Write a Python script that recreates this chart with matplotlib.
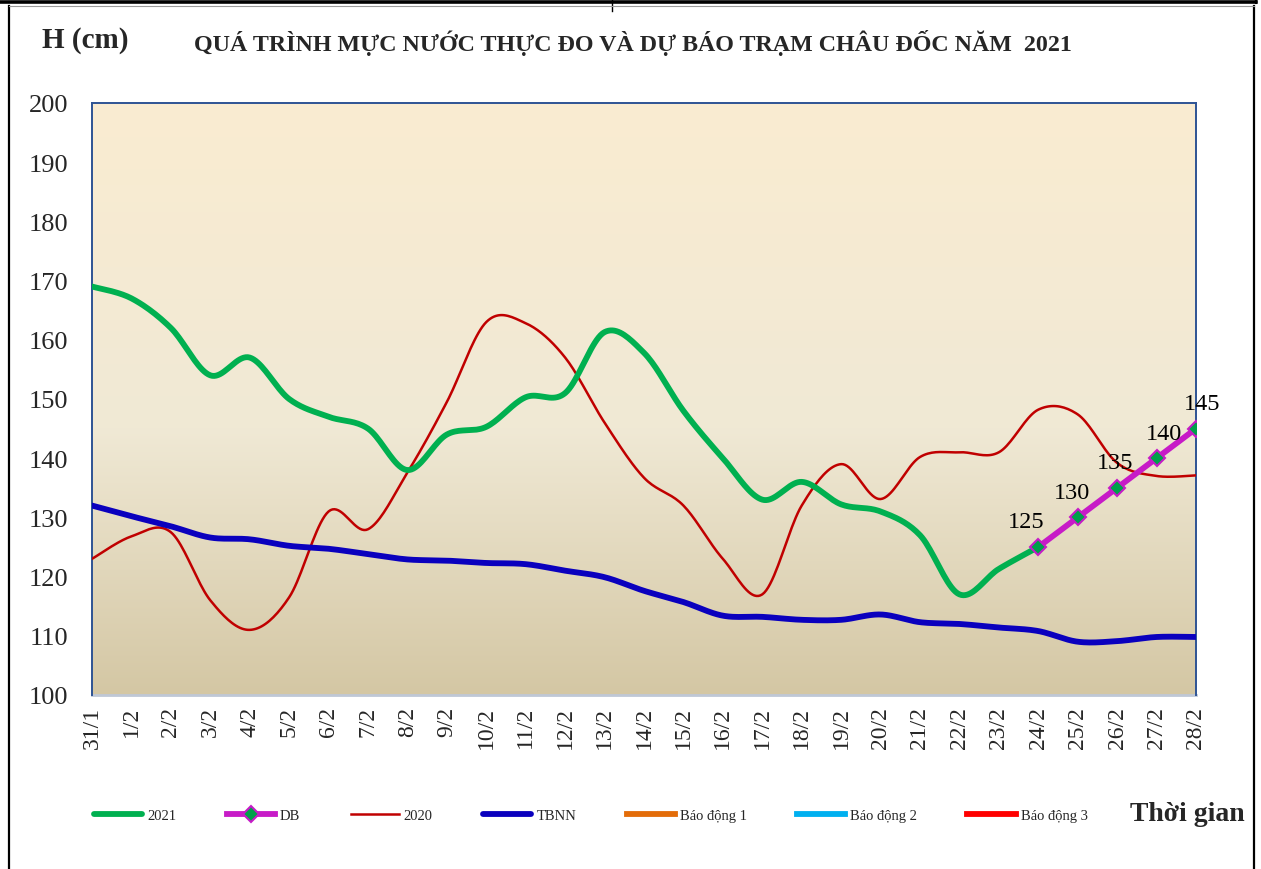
import numpy as np
import matplotlib
matplotlib.use("Agg")
import matplotlib.pyplot as plt
from matplotlib.lines import Line2D
from matplotlib.colors import LinearSegmentedColormap

# ---------------- data ----------------
dates = ["31/1", "1/2", "2/2", "3/2", "4/2", "5/2", "6/2", "7/2", "8/2", "9/2",
         "10/2", "11/2", "12/2", "13/2", "14/2", "15/2", "16/2", "17/2", "18/2",
         "19/2", "20/2", "21/2", "22/2", "23/2", "24/2", "25/2", "26/2", "27/2", "28/2"]

h2021 = [169, 167, 162, 154, 157, 150, 147, 145, 138, 144, 145.3, 150.3, 151, 161.3,
         157.8, 148, 140, 133, 136, 132.2, 131, 127, 117, 121.3, 125]

db_dates = ["24/2", "25/2", "26/2", "27/2", "28/2"]
db_vals = [125, 130, 135, 140, 145]

h2020 = [123, 126.8, 127.5, 116, 111, 116.5, 131, 128, 137.6, 149.5, 163, 162.8, 157,
         146, 136.7, 132, 123, 117, 132, 139, 133.1, 140.2, 141, 141, 148.2, 147.4,
         139.2, 137, 137.1]

tbnn = [132, 130.2, 128.5, 126.6, 126.3, 125.2, 124.7, 123.8, 122.9, 122.7, 122.3,
        122.1, 121, 119.9, 117.6, 115.7, 113.4, 113.2, 112.7, 112.7, 113.6, 112.3,
        112, 111.4, 110.8, 109, 109.1, 109.8, 109.8]

alarm_levels = [350, 400, 450]   # Báo động 1, 2, 3 (outside the visible range)
alarm_names = ["Báo động 1", "Báo động 2", "Báo động 3"]
alarm_colors = ["#E36C09", "#00B0F0", "#FF0000"]

yticks = list(range(100, 201, 10))

# horizontal nudges of the DB value labels (pixels)
label_dx_px = [-12, -6, -2, 7, 6]

SERIF = ["Liberation Serif", "DejaVu Serif"]
plt.rcParams["font.family"] = SERIF


def smooth(xs, ys, n=20):
    """Catmull-Rom curve through the points (Excel-like smoothed line)."""
    xs = np.asarray(xs, float)
    ys = np.asarray(ys, float)
    P = np.column_stack([xs, ys])
    P = np.vstack([P[0], P, P[-1]])
    out = []
    t = np.linspace(0, 1, n, endpoint=False)
    for i in range(1, len(P) - 2):
        p0, p1, p2, p3 = P[i - 1], P[i], P[i + 1], P[i + 2]
        c1 = p1 + (p2 - p0) / 6.0
        c2 = p2 - (p3 - p1) / 6.0
        tt = t[:, None]
        seg = ((1 - tt) ** 3) * p1 + 3 * ((1 - tt) ** 2) * tt * c1 + 3 * (1 - tt) * tt ** 2 * c2 + tt ** 3 * p2
        out.append(seg)
    out.append(P[-2][None, :])
    out = np.vstack(out)
    return out[:, 0], out[:, 1]


W, H = 1261, 870
PX = 72 / 100  # points per pixel
fig = plt.figure(figsize=(W / 100, H / 100), dpi=100)
fig.patch.set_facecolor("white")

ax = fig.add_axes([92 / W, 1 - 696 / H, (1196 - 92) / W, (696 - 104) / H])

x_all = np.arange(len(dates))
idx = {d: i for i, d in enumerate(dates)}

# background gradient
cmap = LinearSegmentedColormap.from_list(
    "bg",
    [(0.0, (212 / 255, 199 / 255, 164 / 255)),
     (0.45, (240 / 255, 233 / 255, 213 / 255)),
     (1.0, (250 / 255, 236 / 255, 209 / 255))])
grad = np.linspace(0, 1, 256)[:, None]
ax.imshow(grad, cmap=cmap, aspect="auto", origin="lower", extent=[0, 1, 0, 1],
          transform=ax.transAxes, zorder=0)

# series
x21 = x_all[:len(h2021)]
sx, sy = smooth(x21, h2021)
l2021, = ax.plot(sx, sy, color="#00B050", lw=4.2, solid_capstyle="round", zorder=4)

sx, sy = smooth(x_all, h2020)
l2020, = ax.plot(sx, sy, color="#C00000", lw=1.8, zorder=3)

sx, sy = smooth(x_all, tbnn)
ltbnn, = ax.plot(sx, sy, color="#0A00BE", lw=4.2, solid_capstyle="round", zorder=3)

xdb = [idx[d] for d in db_dates]
ldb, = ax.plot(xdb, db_vals, color="#C71BC7", lw=4.2, marker="D", markersize=8,
               markerfacecolor="#00A04A", markeredgecolor="#C71BC7", markeredgewidth=1.5,
               zorder=5)
for xv, yv, dx in zip(xdb, db_vals, label_dx_px):
    ax.annotate(f"{yv}", (xv, yv), xytext=(dx * PX, 25 * PX), textcoords="offset points",
                ha="center", va="center", fontsize=17.5, color="black", zorder=6,
                annotation_clip=False)

alarm_lines = []
for lvl, nm, c in zip(alarm_levels, alarm_names, alarm_colors):
    ln, = ax.plot(x_all, [lvl] * len(x_all), color=c, lw=4.2, zorder=2)
    alarm_lines.append(ln)

ax.set_xlim(0, len(dates) - 1)
ax.set_ylim(100, 200)
ax.set_yticks(yticks)
ax.set_yticklabels([str(v) for v in yticks], fontsize=19, color="#262626")
ax.set_xticks(x_all)
ax.set_xticklabels(dates, rotation=90, fontsize=17, color="#262626")
ax.tick_params(axis="both", length=0)
ax.tick_params(axis="y", pad=24 * PX)
ax.tick_params(axis="x", pad=11 * PX)

for s in ["left", "top", "right"]:
    ax.spines[s].set_color("#2E5394")
    ax.spines[s].set_linewidth(1.4)
ax.spines["bottom"].set_color("#BFC8D6")
ax.spines["bottom"].set_linewidth(2)
ax.spines["bottom"].set_zorder(1)

# titles
fig.text(42 / W, 1 - 41 / H, "H (cm)", fontsize=21, fontweight="bold",
         ha="left", va="center", color="#262626")
fig.text(633 / W, 1 - 43 / H,
         "QUÁ TRÌNH MỰC NƯỚC THỰC ĐO VÀ DỰ BÁO TRẠM CHÂU ĐỐC NĂM  2021",
         fontsize=17.3, fontweight="bold", ha="center", va="center", color="#262626")
fig.text(1187 / W, 1 - 815 / H, "Thời gian", fontsize=20, fontweight="bold",
         ha="center", va="center", color="#262626")

# legend
handles = [l2021, ldb, l2020, ltbnn] + alarm_lines
labels = ["2021", "DB", "2020", "TBNN"] + alarm_names
leg = fig.legend(handles, labels, loc="center left",
                 bbox_to_anchor=(94 / W, 1 - 816 / H), ncol=7, frameon=False,
                 fontsize=10.5, handlelength=3.3, handletextpad=0.35,
                 columnspacing=3.45, borderpad=0, borderaxespad=0)
for t in leg.get_texts():
    t.set_color("#262626")

# frame lines around the figure
fig.add_artist(Line2D([0, 1256 / W], [1 - 3 / H, 1 - 3 / H], transform=fig.transFigure,
                      color="black", lw=2.6))
fig.add_artist(Line2D([612 / W, 612 / W], [1, 1 - 12 / H], transform=fig.transFigure,
                      color="black", lw=1))
fig.add_artist(Line2D([1256 / W, 1256 / W], [1, 1 - 4 / H], transform=fig.transFigure,
                      color="black", lw=1.5))
fig.add_artist(Line2D([9 / W, 9 / W], [1 - 7 / H, 0], transform=fig.transFigure,
                      color="black", lw=1.6))
fig.add_artist(Line2D([1254 / W, 1254 / W], [1 - 7 / H, 0], transform=fig.transFigure,
                      color="black", lw=1.6))
fig.add_artist(Line2D([9 / W, 1254 / W], [1 - 7 / H, 1 - 7 / H], transform=fig.transFigure,
                      color="#9a9a9a", lw=0.8))

fig.savefig("out.png", dpi=100, facecolor="white")
